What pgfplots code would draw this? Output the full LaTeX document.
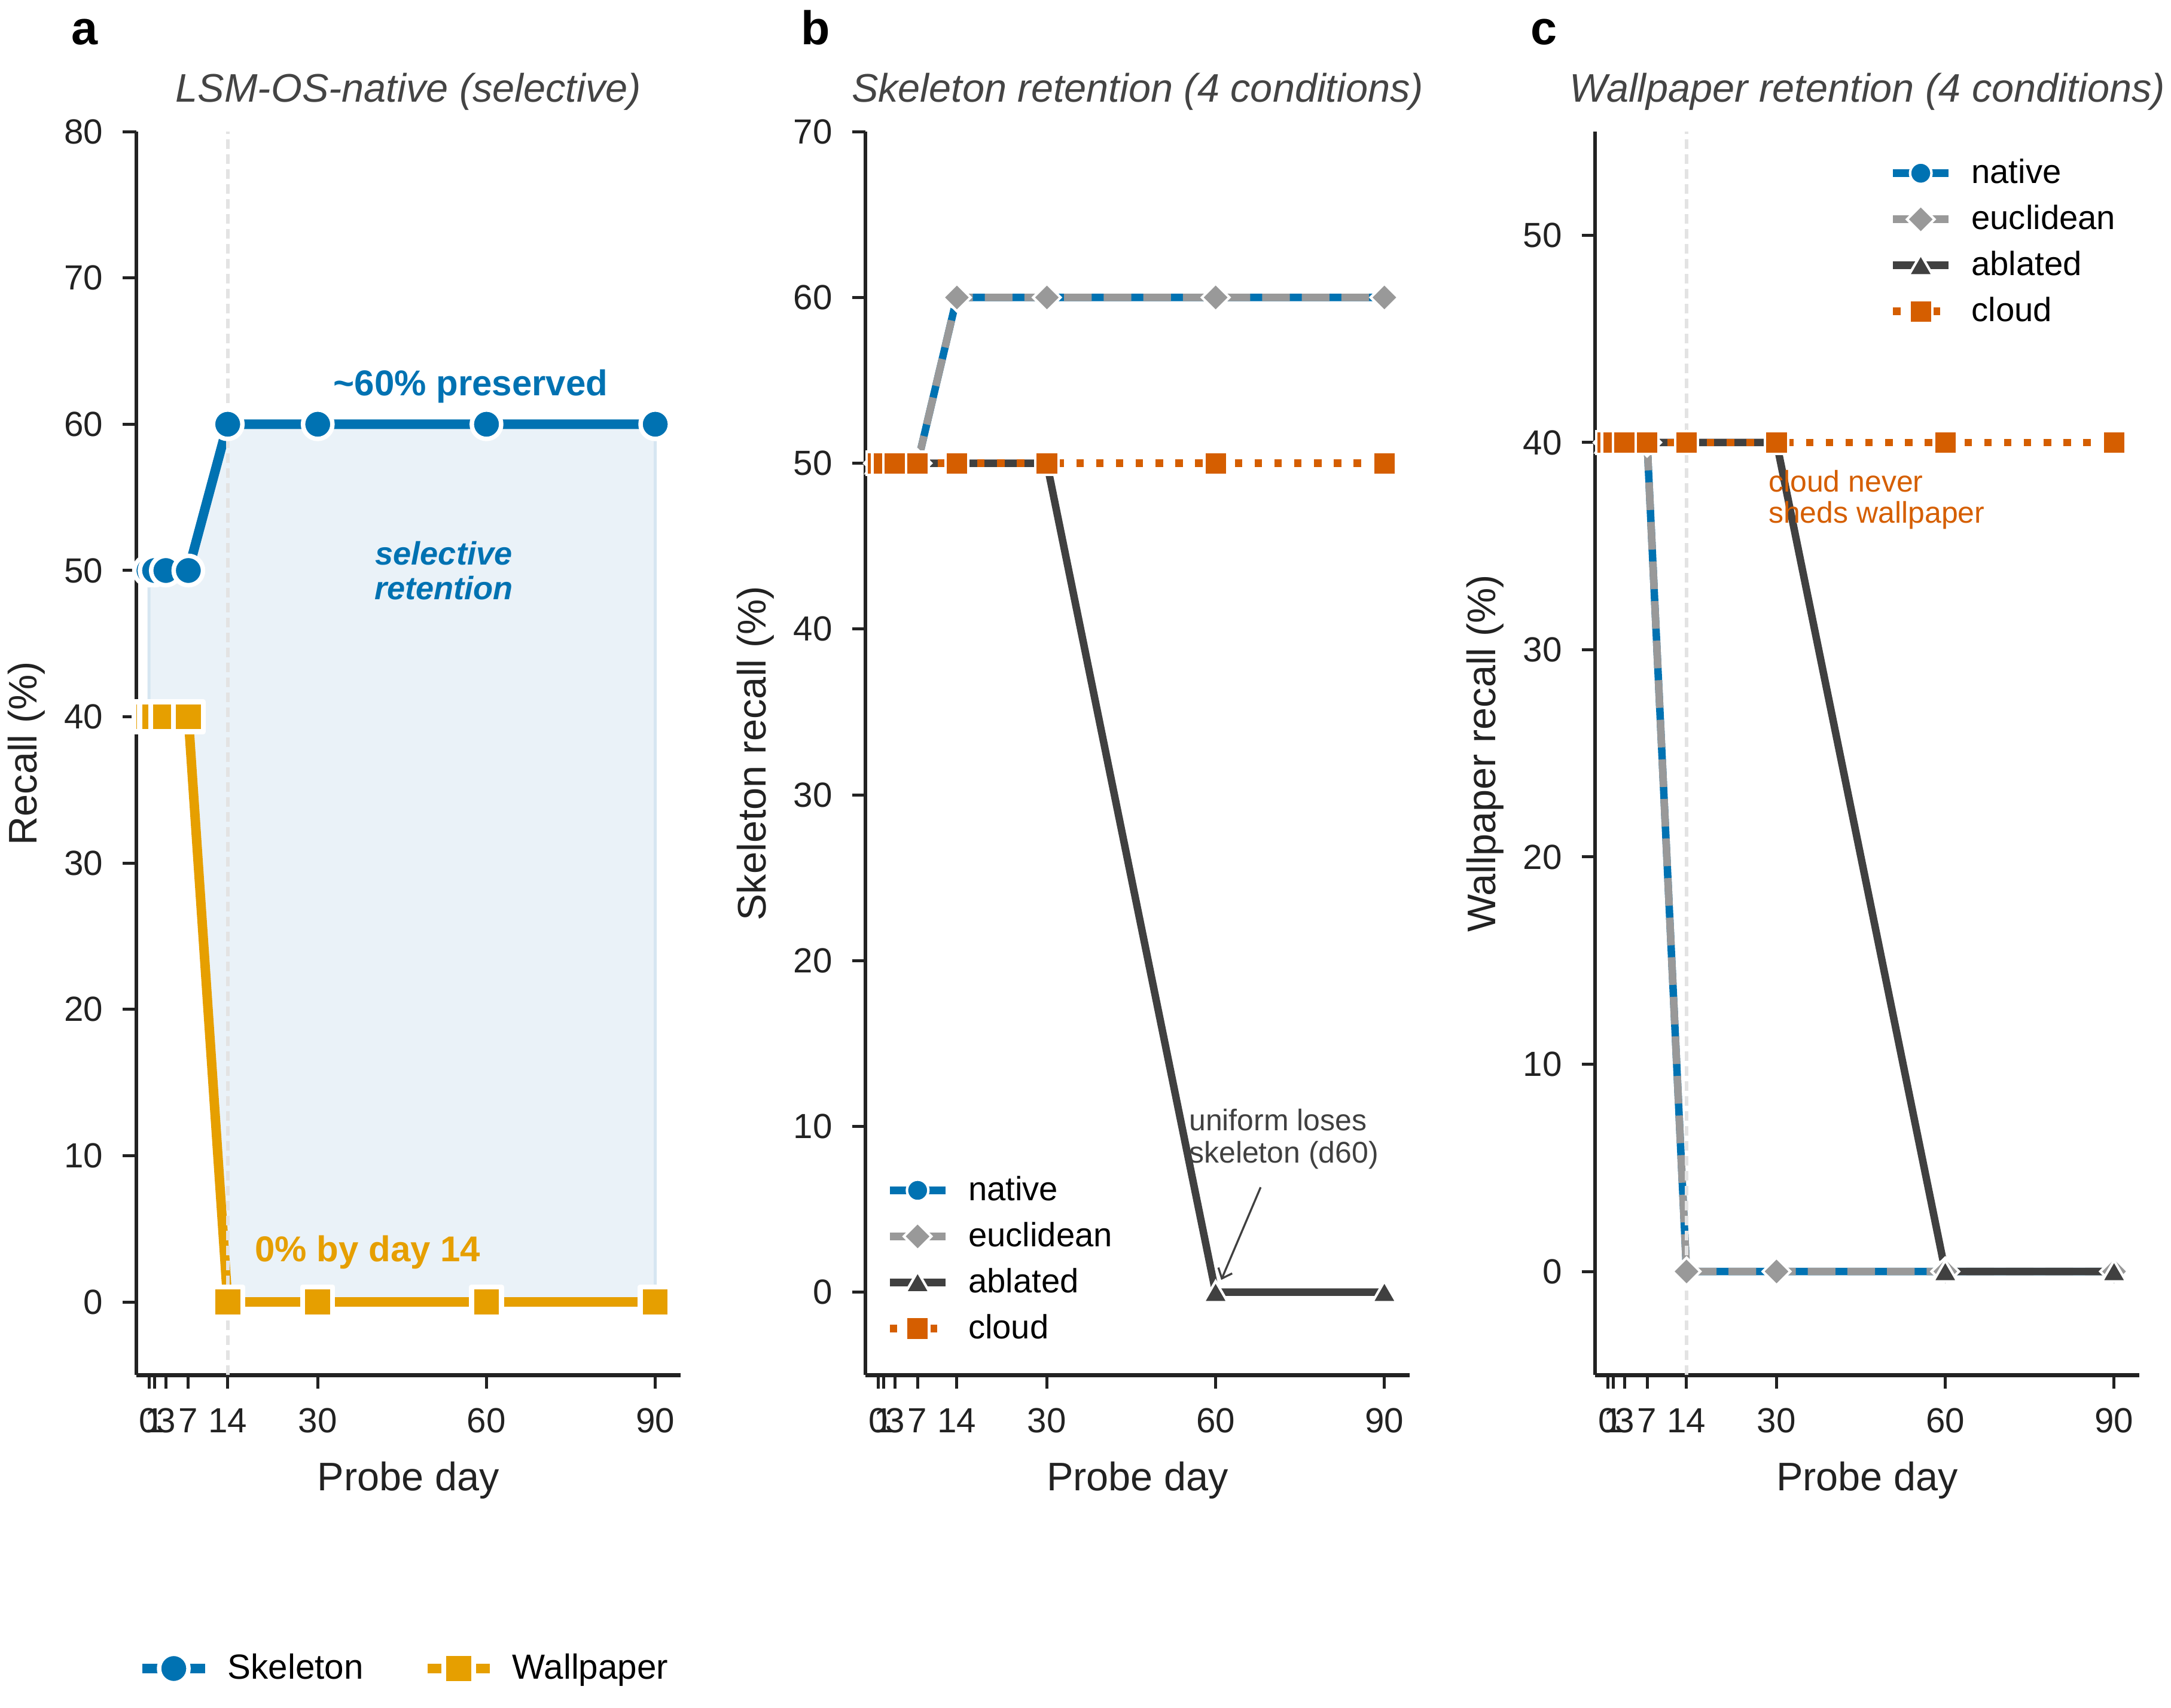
\documentclass[border=0pt]{standalone}
\usepackage{fontspec}
\setmainfont{Liberation Sans}
\usepackage{pgfplots}
\pgfplotsset{compat=1.18}
\usetikzlibrary{arrows.meta}

\definecolor{cblue}{HTML}{0072B2}
\definecolor{corange}{HTML}{E69F00}
\definecolor{cverm}{HTML}{D55E00}
\definecolor{cgray}{HTML}{999999}
\definecolor{cdark}{HTML}{404040}
\definecolor{spine}{HTML}{222222}
\definecolor{titlec}{HTML}{444444}
\definecolor{fillc}{HTML}{EAF2F8}
\definecolor{edgec}{HTML}{D6E6F1}
\definecolor{vlinec}{HTML}{E3E3E3}

\pgfplotsset{
  mystyle/.style={
    scale only axis, width=218.4pt, height=499pt,
    anchor=south west,
    axis lines=left,
    axis line style={-, line width=1.6pt, color=spine},
    xmin=-2.25, xmax=94.5,
    xtick={0,1,3,7,14,30,60,90},
    tick align=outside, major tick length=5.4pt,
    every tick/.style={line width=1.2pt, color=spine},
    tick label style={font=\fontsize{14}{14}\selectfont, color=spine},
    xticklabel style={yshift=-4.4pt},
    yticklabel style={xshift=-4.4pt},
    /pgf/number format/assume math mode=true,
    label style={font=\fontsize{16}{16}\selectfont, color=spine},
    xlabel={Probe day},
    xlabel style={at={(axis description cs:0.5,-0.0848)}, anchor=center},
    ylabel style={at={(axis description cs:-0.202,0.5)}, anchor=center},
    title style={at={(axis description cs:0.5,1)}, anchor=center, yshift=10pt,
      font=\fontsize{16}{16}\selectfont\itshape, color=titlec},
    clip=false,
    legend cell align=left,
  },
  legA/.style={
    legend image code/.code={\draw[mark repeat=2,mark phase=2,##1] plot coordinates {(0pt,0pt) (12.5pt,0pt) (25pt,0pt)};},
  },
  legB/.style={
    legend image code/.code={\draw[mark repeat=2,mark phase=2,##1] plot coordinates {(0pt,0pt) (11.15pt,0pt) (22.3pt,0pt)};},
  },
  triM/.style={mark=triangle*, mark size=5.6pt,
    mark options={draw=white, line width=1pt, fill=cdark, yshift=-1.2pt}},
}

\begin{document}
\begin{tikzpicture}
\useasboundingbox (0pt,0pt) rectangle (871.2pt,685.44pt);

% panel labels
\node[font=\fontsize{19}{19}\selectfont\bfseries, anchor=base west] at (25.2pt,667.5pt) {a};
\node[font=\fontsize{19}{19}\selectfont\bfseries, anchor=base west] at (318.0pt,667.5pt) {b};
\node[font=\fontsize{19}{19}\selectfont\bfseries, anchor=base west] at (610.8pt,667.5pt) {c};

% ---------------- Panel a ----------------
\begin{axis}[mystyle, legA, at={(54.7pt,133.6pt)},
  ymin=-5, ymax=80, ytick={0,10,...,80},
  ylabel={Recall (\%)}, title={LSM-OS-native (selective)},
  legend columns=2,
  legend style={at={(axis description cs:0.002,-0.236)}, anchor=west, draw=none, fill=none,
    inner sep=0pt, font=\fontsize{14}{14}\selectfont,
    nodes={inner sep=0pt},
    /tikz/every odd column/.append style={column sep=7.2pt},
    /tikz/every even column/.append style={column sep=23.8pt}},
]
\addplot[fill=fillc, draw=edgec, line width=1.2pt, forget plot] coordinates
  {(0,50)(1,50)(3,50)(7,50)(14,60)(30,60)(60,60)(90,60)(90,0)(60,0)(30,0)(14,0)(7,40)(3,40)(1,40)(0,40)} -- cycle;
\addplot[cblue, line width=3.8pt, line join=round, mark=*, mark size=5.9pt,
  mark options={draw=white, line width=1.8pt, fill=cblue}] coordinates
  {(0,50)(1,50)(3,50)(7,50)(14,60)(30,60)(60,60)(90,60)};
\addlegendentry{Skeleton}
\addplot[corange, line width=3.8pt, line join=round, mark=square*, mark size=6pt,
  mark options={draw=white, line width=2pt, fill=corange}] coordinates
  {(0,40)(1,40)(3,40)(7,40)(14,0)(30,0)(60,0)(90,0)};
\addlegendentry{Wallpaper}
\draw[vlinec, line width=1.35pt, dash pattern=on 4pt off 2pt] (axis cs:14,-5) -- (axis cs:14,80);
\node[font=\fontsize{14.4}{14.4}\selectfont\bfseries, color=cblue] at (axis cs:57.2,62.6) {\textasciitilde60\% preserved};
\node[font=\fontsize{13}{14}\selectfont\bfseries\itshape, color=cblue, align=center] at (axis cs:52.4,50) {selective\\retention};
\node[font=\fontsize{14.4}{14.4}\selectfont\bfseries, color=corange, anchor=base] at (axis cs:38.9,2.75) {0\% by day 14};
\end{axis}

% ---------------- Panel b ----------------
\begin{axis}[mystyle, legB, at={(347.3pt,133.6pt)},
  ymin=-5, ymax=70, ytick={0,10,...,70},
  ylabel={Skeleton recall (\%)}, title={Skeleton retention (4 conditions)},
  legend style={at={(axis description cs:0.037,0.093)}, anchor=west, draw=none, fill=none,
    inner sep=0pt, font=\fontsize{13.5}{13.5}\selectfont, row sep=7.2pt,
    nodes={inner sep=0pt},
    /tikz/every odd column/.append style={column sep=7.7pt}},
]
\addplot[cblue, line width=3pt, mark=*, mark size=4.3pt,
  mark options={draw=white, line width=1pt, fill=cblue}] coordinates
  {(0,50)(1,50)(3,50)(7,50)(14,60)(30,60)(60,60)(90,60)};
\addlegendentry{native}
\addplot[cgray, line width=3pt, dash pattern=on 11.1pt off 4.8pt, mark=square*, mark size=3.9pt,
  mark options={solid, rotate=45, draw=white, line width=1pt, fill=cgray}] coordinates
  {(0,50)(1,50)(3,50)(7,50)(14,60)(30,60)(60,60)(90,60)};
\addlegendentry{euclidean}
\addplot[cdark, line width=3pt, triM] coordinates
  {(0,50)(1,50)(3,50)(7,50)(14,50)(30,50)(60,0)(90,0)};
\addlegendentry{ablated}
\addplot[cverm, line width=3pt, dash pattern=on 3pt off 4.95pt, mark=square*, mark size=4.6pt,
  mark options={solid, draw=white, line width=1pt, fill=cverm}] coordinates
  {(0,50)(1,50)(3,50)(7,50)(14,50)(30,50)(60,50)(90,50)};
\addlegendentry{cloud}
\node[font=\fontsize{12}{13}\selectfont, color=cdark, align=left, anchor=north west, inner sep=0pt]
  at (axis cs:55.2,11.1) {uniform loses\\skeleton (d60)};
\draw[cdark, line width=0.8pt, -{Straight Barb[length=3.5pt,width=6pt]}] (axis cs:68.0,6.33) -- (axis cs:61.0,0.74);
\end{axis}

% ---------------- Panel c ----------------
\begin{axis}[mystyle, legB, at={(640.1pt,133.6pt)},
  ymin=-5, ymax=55, ytick={0,10,...,50},
  ylabel={Wallpaper recall (\%)}, title={Wallpaper retention (4 conditions)},
  legend style={at={(axis description cs:0.5395,0.911)}, anchor=west, draw=none, fill=none,
    inner sep=0pt, font=\fontsize{13.5}{13.5}\selectfont, row sep=7.2pt,
    nodes={inner sep=0pt},
    /tikz/every odd column/.append style={column sep=7.7pt}},
]
\addplot[cblue, line width=3pt, mark=*, mark size=4.3pt,
  mark options={draw=white, line width=1pt, fill=cblue}] coordinates
  {(0,40)(1,40)(3,40)(7,40)(14,0)(30,0)(60,0)(90,0)};
\addlegendentry{native}
\addplot[cgray, line width=3pt, dash pattern=on 11.1pt off 4.8pt, mark=square*, mark size=3.9pt,
  mark options={solid, rotate=45, draw=white, line width=1pt, fill=cgray}] coordinates
  {(0,40)(1,40)(3,40)(7,40)(14,0)(30,0)(60,0)(90,0)};
\addlegendentry{euclidean}
\addplot[cdark, line width=3pt, triM] coordinates
  {(0,40)(1,40)(3,40)(7,40)(14,40)(30,40)(60,0)(90,0)};
\addlegendentry{ablated}
\addplot[cverm, line width=3pt, dash pattern=on 3pt off 4.95pt, mark=square*, mark size=4.6pt,
  mark options={solid, draw=white, line width=1pt, fill=cverm}] coordinates
  {(0,40)(1,40)(3,40)(7,40)(14,40)(30,40)(60,40)(90,40)};
\addlegendentry{cloud}
\draw[vlinec, line width=1.35pt, dash pattern=on 4pt off 2pt] (axis cs:14,-5) -- (axis cs:14,55);
\node[font=\fontsize{12}{12.7}\selectfont, color=cverm, align=left, anchor=north west, inner sep=0pt]
  at (axis cs:28.5,38.7) {cloud never\\sheds wallpaper};
\end{axis}
\end{tikzpicture}
\end{document}
